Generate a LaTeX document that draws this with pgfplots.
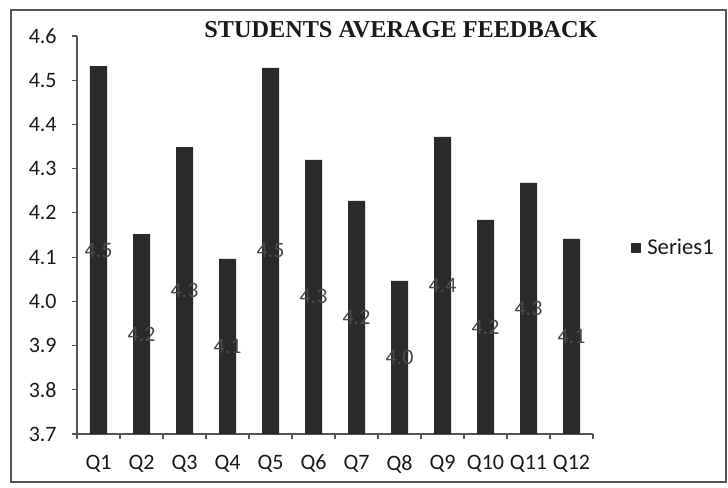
\documentclass[border=0pt]{standalone}
\usepackage{fontspec}
\setmainfont{Carlito}
\newfontfamily\titlefont{Liberation Serif}
\usepackage{pgfplots}
\usepackage{pgfplotstable}
\pgfplotsset{compat=1.18}
\definecolor{barc}{HTML}{2A2A2A}
\definecolor{txt}{HTML}{1A1A1A}
\definecolor{lbl}{HTML}{4A4A4A}
\definecolor{axc}{HTML}{555555}
\pgfplotstableread{
x v
0 4.532
1 4.152
2 4.349
3 4.096
4 4.528
5 4.320
6 4.227
7 4.046
8 4.372
9 4.184
10 4.268
11 4.141
}\datatable
\begin{document}
\begin{tikzpicture}
\path[use as bounding box] (0pt,0pt) rectangle (546pt,365.25pt);
\draw[axc, line width=1.1pt] (8.25pt,3.75pt) rectangle (544.5pt,357.75pt);
\node[font=\titlefont\fontsize{18.2}{21}\selectfont\bfseries, text=txt] at (300.75pt,342.75pt) {STUDENTS AVERAGE FEEDBACK};
\begin{axis}[
  at={(57.75pt,39.75pt)}, anchor=south west,
  scale only axis, width=387pt, height=298.5pt,
  xmin=-0.5, xmax=11.5, ymin=3.7, ymax=4.6,
  axis lines=left, axis line style={-, axc, line width=0.8pt},
  xtick={0,...,11},
  xticklabels={Q1,Q2,Q3,Q4,Q5,Q6,Q7,Q8,Q9,Q10,Q11,Q12},
  major x tick style={draw=none},
  minor xtick={-0.5,0.5,...,11.5},
  minor tick length=4pt,
  ytick={3.7,3.8,...,4.61},
  major tick length=3.75pt,
  tick align=outside,
  tick style={axc, line width=0.8pt},
  yticklabel style={/pgf/number format/.cd, fixed, fixed zerofill, precision=1, /tikz/.cd, xshift=-8pt},
  xticklabel style={yshift=-8.5pt},
  /pgf/number format/assume math mode=true,
  ticklabel style={font=\fontsize{16.5}{19}\selectfont, text=txt},
  legend style={at={(axis description cs:1.066,0.467)}, anchor=west, draw=none, fill=none,
    font=\fontsize{17}{20}\selectfont, text=txt},
  legend image code/.code={\fill[#1] (0pt,-3.75pt) rectangle (7.5pt,3.75pt); \path (10pt,0pt);},
  clip=false,
]
\addplot[ybar, bar width=12.75pt, fill=barc, draw=none] table[x=x, y=v] {\datatable};
\addlegendentry{Series1}
\addplot[draw=none, mark=none, forget plot,
  nodes near coords={\pgfmathprintnumber[fixed,fixed zerofill,precision=1]{\pgfplotspointmeta}},
  point meta=\thisrow{v},
  every node near coord/.append style={anchor=center, font=\fontsize{16.5}{19}\selectfont, text=lbl}]
  table[x=x, y expr={(\thisrow{v}+3.7)/2}] {\datatable};
\end{axis}
\end{tikzpicture}
\end{document}
